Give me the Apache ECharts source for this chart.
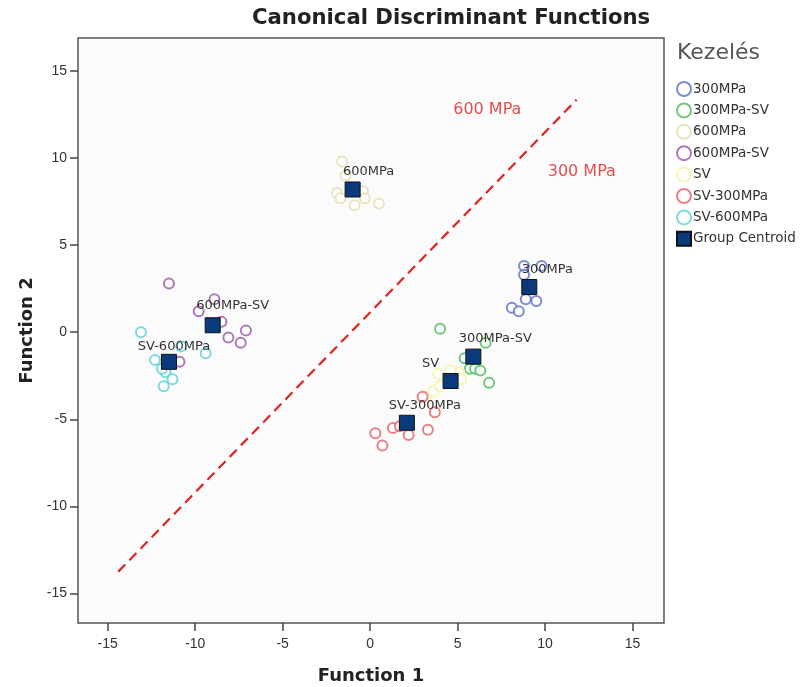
<!DOCTYPE html>
<html>
<head>
<meta charset="utf-8">
<title>Canonical Discriminant Functions</title>
<script src="https://cdn.jsdelivr.net/npm/echarts@6/dist/echarts.min.js"></script>
<style>
  html, body { margin: 0; padding: 0; background: #fff; }
  #main { width: 802px; height: 687px; }
</style>
</head>
<body>
<div id="main"></div>
<script>
// ---- data ----
var groupNames = ['300MPa', '300MPa-SV', '600MPa', '600MPa-SV', 'SV', 'SV-300MPa', 'SV-600MPa'];

var pts300MPa = [[8.8, 3.8], [9.8, 3.8], [8.8, 3.3], [8.9, 1.9], [9.5, 1.8], [8.1, 1.4], [8.5, 1.2]];
var pts300MPaSV = [[4.0, 0.2], [6.6, -0.6], [5.4, -1.5], [5.7, -2.1], [6.0, -2.1], [6.3, -2.2], [6.8, -2.9]];
var pts600MPa = [[-1.6, 9.8], [-1.4, 9.0], [-1.9, 8.0], [-1.7, 7.7], [-0.4, 8.1], [-0.3, 7.7], [-0.9, 7.3], [0.5, 7.4]];
var pts600MPaSV = [[-11.5, 2.8], [-8.9, 1.9], [-9.8, 1.2], [-8.5, 0.6], [-8.1, -0.3], [-7.1, 0.1], [-7.4, -0.6], [-10.9, -1.7]];
var ptsSV = [[3.2, -3.7], [3.6, -3.4], [4.0, -3.1], [5.1, -2.3], [5.2, -2.7], [4.6, -2.2], [3.9, -2.4]];
var ptsSV300MPa = [[3.0, -3.7], [3.7, -4.6], [1.3, -5.5], [1.7, -5.4], [0.3, -5.8], [2.2, -5.9], [3.3, -5.6], [0.7, -6.5]];
var ptsSV600MPa = [[-13.1, 0.0], [-12.3, -1.6], [-9.4, -1.2], [-10.8, -0.8], [-11.7, -2.3], [-11.3, -2.7], [-11.8, -3.1], [-11.9, -2.1]];

var centroidX = [9.1, 5.9, -1.0, -9.0, 4.6, 2.1, -11.5];
var centroidY = [2.6, -1.4, 8.2, 0.4, -2.8, -5.2, -1.7];

var lineX = [-14.4, 11.8];
var lineY = [-13.75, 13.35];
var regionNames = ['600 MPa', '300 MPa'];
var regionX = [6.7, 12.1];
var regionY = [12.8, 9.2];

var tickValues = [-15, -10, -5, 0, 5, 10, 15];

// ---- styles ----
var colors = ['#5b6fc2', '#4cba5c', '#e4dfae', '#9856a8', '#f6f2a4', '#e7606a', '#5ccfd2'];
var centroidColor = '#0a3a7c';
// label offsets for centroid labels [dx, dy] relative to top of square
var labelShift = [[18, 0], [22, 0], [16, 0], [20, -2], [-20, 0], [18, 0], [5, 2]];
var font = '"DejaVu Sans", "Liberation Sans", Arial, sans-serif';
var tickFont = '"Liberation Sans", Arial, sans-serif';

var allPts = [pts300MPa, pts300MPaSV, pts600MPa, pts600MPaSV, ptsSV, ptsSV300MPa, ptsSV600MPa];

var series = [];
groupNames.forEach(function (g, i) {
  series.push({
    name: g,
    type: 'scatter',
    symbol: 'emptyCircle',
    symbolSize: 10,
    itemStyle: { color: colors[i], borderColor: colors[i], borderWidth: 1.6 },
    data: allPts[i],
    z: 2
  });
});

series.push({
  name: 'Group Centroid',
  type: 'scatter',
  symbol: 'rect',
  symbolSize: 15,
  itemStyle: { color: centroidColor, borderColor: '#111', borderWidth: 1, opacity: 1 },
  data: centroidX.map(function (x, i) {
    return {
      value: [x, centroidY[i]],
      label: { offset: labelShift[i] }
    };
  }),
  label: {
    show: true,
    position: 'top',
    distance: 3,
    formatter: function (p) { return groupNames[p.dataIndex]; },
    color: '#333',
    fontFamily: font,
    fontSize: 13
  },
  z: 5
});

series.push({
  name: 'line',
  type: 'line',
  data: [[lineX[0], lineY[0]], [lineX[1], lineY[1]]],
  symbol: 'none',
  lineStyle: { color: '#e0231f', width: 2.2, type: [10, 6] },
  z: 1,
  silent: true
});

series.push({
  name: 'regions',
  type: 'scatter',
  symbolSize: 0,
  data: regionX.map(function (x, i) { return { value: [x, regionY[i]], name: regionNames[i] }; }),
  label: {
    show: true,
    position: 'inside',
    formatter: '{b}',
    color: '#e0231f',
    fontFamily: font,
    fontSize: 16
  },
  silent: true
});

var legendData = groupNames.map(function (g) { return { name: g, icon: 'emptyCircle' }; });
legendData.push({ name: 'Group Centroid', icon: 'rect' });

var chart = echarts.init(document.getElementById('main'));
chart.setOption({
  animation: false,
  backgroundColor: '#fff',
  title: {
    text: 'Canonical Discriminant Functions',
    left: 252,
    top: 8,
    padding: 0,
    textStyle: { fontFamily: font, fontSize: 21.2, fontWeight: 'bold', color: '#222' }
  },
  graphic: [{
    type: 'text',
    left: 677,
    top: 42,
    style: { text: 'Kezelés', fontFamily: font, fontSize: 22, fill: '#555' }
  }],
  legend: {
    orient: 'vertical',
    left: 676,
    top: 81,
    padding: 0,
    itemWidth: 14,
    itemHeight: 14,
    itemGap: 5.4,
    data: legendData,
    textStyle: { fontFamily: font, fontSize: 13.5, lineHeight: 14, color: '#333', padding: [0, 0, 0, -3] },
    selectedMode: false
  },
  grid: {
    left: 78,
    right: 138,
    top: 38,
    bottom: 64,
    outerBoundsMode: 'none',
    containLabel: false,
    show: true,
    backgroundColor: '#fbfbfb',
    borderColor: '#555',
    borderWidth: 1.5
  },
  xAxis: {
    type: 'value',
    min: -16.7,
    max: 16.8,
    name: 'Function 1',
    nameLocation: 'middle',
    nameGap: 44,
    nameTextStyle: { fontFamily: font, fontSize: 18, fontWeight: 'bold', color: '#222' },
    axisLine: { show: false, onZero: false },
    splitLine: { show: false },
    axisTick: { show: true, length: 8, customValues: tickValues, lineStyle: { color: '#444', width: 1.5 } },
    axisLabel: { customValues: tickValues, margin: 14, fontFamily: tickFont, fontSize: 14, color: '#333' }
  },
  yAxis: {
    type: 'value',
    min: -16.7,
    max: 16.9,
    name: 'Function 2',
    nameLocation: 'middle',
    nameGap: 40,
    nameTextStyle: { fontFamily: font, fontSize: 18, fontWeight: 'bold', color: '#222' },
    axisLine: { show: false, onZero: false },
    splitLine: { show: false },
    axisTick: { show: true, length: 8, customValues: tickValues, lineStyle: { color: '#444', width: 1.5 } },
    axisLabel: { customValues: tickValues, margin: 11, fontFamily: tickFont, fontSize: 14, color: '#333' }
  },
  series: series
});
</script>
</body>
</html>
